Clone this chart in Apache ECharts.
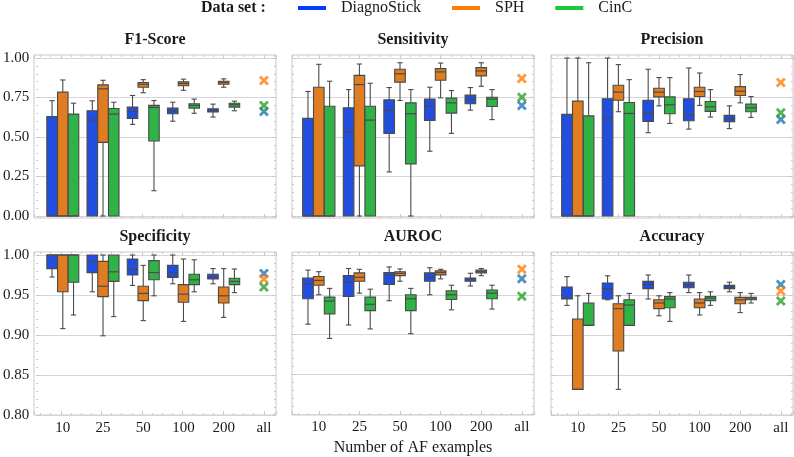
<!DOCTYPE html>
<html>
<head>
<meta charset="utf-8">
<script src="https://cdn.jsdelivr.net/npm/echarts/dist/echarts.min.js"></script>
<style>
  html, body { margin: 0; padding: 0; background: #fff; }
  #chart { width: 794px; height: 457px; }
</style>
</head>
<body>
<div id="chart"></div>
<script>
// x categories and groups
const categories = ['10', '25', '50', '100', '200', 'all'];
const dataSets = ['DiagnoStick', 'SPH', 'CinC'];
const metrics = ['F1-Score', 'Sensitivity', 'Precision', 'Specificity', 'AUROC', 'Accuracy'];

// box stats per category (10..200): [low whisker, q1, median, q3, high whisker]
const f1Diagno = [[0, 0, 0, 0.63, 0.73], [0, 0, 0.607, 0.666, 0.729], [0.58, 0.618, 0.662, 0.689, 0.763], [0.60, 0.647, 0.666, 0.683, 0.72], [0.626, 0.658, 0.668, 0.679, 0.708]];
const f1Sph = [[0, 0, 0, 0.784, 0.861], [0, 0.466, 0.805, 0.83, 0.859], [0.78, 0.815, 0.834, 0.845, 0.863], [0.796, 0.824, 0.838, 0.849, 0.866], [0.815, 0.834, 0.845, 0.853, 0.868]];
const f1Cinc = [[0, 0, 0, 0.645, 0.714], [0, 0, 0.645, 0.68, 0.72], [0.16, 0.475, 0.687, 0.70, 0.731], [0.65, 0.683, 0.70, 0.71, 0.74], [0.666, 0.689, 0.704, 0.714, 0.727]];
const f1All = [0.662, 0.857, 0.70];

const senDiagno = [[0, 0, 0, 0.618, 0.788], [0, 0, 0.534, 0.685, 0.80], [0.279, 0.523, 0.67, 0.735, 0.813], [0.41, 0.605, 0.697, 0.74, 0.815], [0.67, 0.71, 0.737, 0.765, 0.813]];
const senSph = [[0, 0, 0, 0.815, 0.96], [0, 0.317, 0.832, 0.89, 0.962], [0.731, 0.847, 0.90, 0.929, 0.97], [0.748, 0.859, 0.912, 0.933, 0.968], [0.821, 0.887, 0.918, 0.939, 0.97]];
const senCinc = [[0, 0, 0, 0.695, 0.853], [0, 0, 0.607, 0.695, 0.84], [0, 0.33, 0.647, 0.716, 0.80], [0.523, 0.651, 0.716, 0.746, 0.794], [0.61, 0.693, 0.74, 0.752, 0.80]];
const senAll = [0.70, 0.87, 0.752];

const preDiagno = [[0, 0, 0, 0.643, 1.0], [0, 0, 0.62, 0.742, 1.0], [0.527, 0.599, 0.651, 0.733, 0.929], [0.55, 0.603, 0.637, 0.742, 0.937], [0.553, 0.597, 0.616, 0.637, 0.697]];
const preSph = [[0, 0, 0, 0.727, 1.0], [0.66, 0.733, 0.784, 0.828, 0.958], [0.697, 0.754, 0.784, 0.809, 0.876], [0.70, 0.756, 0.788, 0.815, 0.905], [0.716, 0.763, 0.79, 0.819, 0.895]];
const preCinc = [[0, 0, 0, 0.634, 0.97], [0, 0, 0.649, 0.718, 0.863], [0.586, 0.647, 0.704, 0.754, 0.876], [0.626, 0.662, 0.691, 0.725, 0.80], [0.624, 0.66, 0.685, 0.708, 0.756]];
const preAll = [0.61, 0.845, 0.653];

const speDiagno = [[0.9725, 0.983, 1.0, 1.0, 1.0], [0.954, 0.978, 0.992, 1.0, 1.0], [0.962, 0.975, 0.982, 0.995, 1.0], [0.964, 0.972, 0.978, 0.987, 1.0], [0.964, 0.970, 0.972, 0.976, 0.983]];
const speSph = [[0.908, 0.954, 1.0, 1.0, 1.0], [0.899, 0.948, 0.961, 0.992, 1.0], [0.918, 0.943, 0.952, 0.961, 0.987], [0.917, 0.941, 0.951, 0.963, 0.995], [0.922, 0.94, 0.949, 0.96, 0.983]];
const speCinc = [[0.925, 0.966, 1.0, 1.0, 1.0], [0.923, 0.967, 0.979, 1.0, 1.0], [0.949, 0.969, 0.978, 0.993, 1.0], [0.954, 0.963, 0.969, 0.976, 0.994], [0.953, 0.963, 0.967, 0.971, 0.9825]];
const speAll = [0.977, 0.970, 0.960];

const aucDiagno = [[0.913, 0.945, 0.964, 0.971, 0.981], [0.912, 0.948, 0.966, 0.974, 0.983], [0.9425, 0.963, 0.975, 0.978, 0.985], [0.95, 0.967, 0.972, 0.9775, 0.984], [0.961, 0.967, 0.970, 0.971, 0.977]];
const aucSph = [[0.95, 0.962, 0.968, 0.973, 0.979], [0.952, 0.967, 0.972, 0.9775, 0.982], [0.967, 0.974, 0.977, 0.979, 0.9825], [0.970, 0.975, 0.978, 0.98, 0.982], [0.974, 0.9775, 0.979, 0.981, 0.983]];
const aucCinc = [[0.895, 0.926, 0.942, 0.947, 0.958], [0.907, 0.93, 0.938, 0.947, 0.957], [0.901, 0.93, 0.945, 0.95, 0.958], [0.931, 0.944, 0.95, 0.955, 0.962], [0.932, 0.945, 0.952, 0.956, 0.962]];
const aucAll = [0.970, 0.982, 0.948];

const accDiagno = [[0.937, 0.945, 0.946, 0.960, 0.973], [0.944, 0.945, 0.958, 0.965, 0.974], [0.945, 0.958, 0.963, 0.967, 0.975], [0.953, 0.959, 0.963, 0.966, 0.975], [0.954, 0.958, 0.96, 0.962, 0.966]];
const accSph = [[0.832, 0.832, 0.832, 0.92, 0.949], [0.832, 0.88, 0.933, 0.939, 0.949], [0.924, 0.933, 0.94, 0.944, 0.949], [0.925, 0.934, 0.94, 0.945, 0.953], [0.928, 0.939, 0.944, 0.947, 0.953]];
const accCinc = [[0.912, 0.912, 0.912, 0.94, 0.952], [0.912, 0.912, 0.9375, 0.944, 0.952], [0.917, 0.934, 0.945, 0.948, 0.953], [0.937, 0.943, 0.946, 0.948, 0.954], [0.94, 0.944, 0.945, 0.947, 0.952]];
const accAll = [0.963, 0.955, 0.9425];

// per panel: the three box sets and the "all" values
const panelBoxes = [
    [f1Diagno, f1Sph, f1Cinc],
    [senDiagno, senSph, senCinc],
    [preDiagno, preSph, preCinc],
    [speDiagno, speSph, speCinc],
    [aucDiagno, aucSph, aucCinc],
    [accDiagno, accSph, accCinc]
];
const panelAll = [f1All, senAll, preAll, speAll, aucAll, accAll];

// styling
const FONT = "'Liberation Serif', 'DejaVu Serif', serif";
const TEXT = '#1a1a1a';
const FRAME = '#c9c9c9';
const GRIDLINE = '#d6d6d6';
const EDGE = '#4a4a4a';
const boxColors = ['#224edf', '#df7d20', '#30b346'];
const lineColors = ['#023eff', '#ff7c00', '#1ac938'];
const markColors = ['#1f77b4', '#ff7f0e', '#2ca02c'];
const X_MARK = 'path://M2,0L5,3L8,0L10,2L7,5L10,8L8,10L5,7L2,10L0,8L3,5L0,2Z';

// layout
const panelLeft = [34, 292, 551];
const panelWidth = 242;
const frameTop = [55, 252];
const frameHeight = 163;
const plotTop = [58, 255];
const plotHeight = [158, 160];
const yRange = [[0, 1, 0.25], [0.8, 1, 0.05]];
const X_MIN = -0.66, X_MAX = 5.3;
const GROUP = 0.8;
const HALF_BOX = GROUP / 3 / 2 * 0.98;
const offsets = [-GROUP / 3, 0, GROUP / 3];

function catLabel(v) {
    const i = Math.round(v);
    if (Math.abs(v - i) > 1e-6 || categories[i] === undefined) return '';
    return categories[i];
}

function boxRenderer(shift) {
    return function (params, api) {
        const c = api.value(0) + shift;
        const lo = api.value(1), q1 = api.value(2), med = api.value(3), q3 = api.value(4), hi = api.value(5);
        const tl = api.coord([c - HALF_BOX, q3]);
        const br = api.coord([c + HALF_BOX, q1]);
        const mid = api.coord([c, med]);
        const capL = api.coord([c - HALF_BOX / 2, hi])[0];
        const capR = api.coord([c + HALF_BOX / 2, hi])[0];
        const cx = api.coord([c, hi])[0];
        const yHi = api.coord([c, hi])[1];
        const yLo = api.coord([c, lo])[1];
        const wStyle = { stroke: EDGE, lineWidth: 1.1 };
        const children = [];
        if (hi > q3) {
            children.push({ type: 'line', shape: { x1: cx, y1: yHi, x2: cx, y2: tl[1] }, style: wStyle });
            children.push({ type: 'line', shape: { x1: capL, y1: yHi, x2: capR, y2: yHi }, style: wStyle });
        }
        if (lo < q1) {
            children.push({ type: 'line', shape: { x1: cx, y1: yLo, x2: cx, y2: br[1] }, style: wStyle });
            children.push({ type: 'line', shape: { x1: capL, y1: yLo, x2: capR, y2: yLo }, style: wStyle });
        }
        children.push({
            type: 'rect',
            shape: { x: tl[0], y: tl[1], width: br[0] - tl[0], height: br[1] - tl[1] },
            style: { fill: api.visual('color'), stroke: EDGE, lineWidth: 1.1 }
        });
        children.push({ type: 'line', shape: { x1: tl[0], y1: mid[1], x2: br[0], y2: mid[1] }, style: { stroke: EDGE, lineWidth: 1.2 } });
        return { type: 'group', children: children };
    };
}

const grids = [], xAxes = [], yAxes = [], series = [];
const titles = [{
    text: 'Data set :', left: 201, top: 0, padding: 0,
    textStyle: { fontFamily: FONT, fontSize: 16, fontWeight: 'bold', color: TEXT }
}];

for (let p = 0; p < 6; p++) {
    const row = p < 3 ? 0 : 1;
    const col = p % 3;
    const [yMin, yMax, yStep] = yRange[row];

    // frame grid (border + x ticks) and plot grid (data)
    grids.push({ left: panelLeft[col], top: frameTop[row], width: panelWidth, height: frameHeight,
        show: true, borderColor: FRAME, borderWidth: 1, backgroundColor: 'transparent' });
    grids.push({ left: panelLeft[col], top: plotTop[row], width: panelWidth, height: plotHeight[row] });

    for (const pos of ['bottom', 'top']) {
        xAxes.push({
            gridIndex: 2 * p, type: 'value', position: pos, min: X_MIN, max: X_MAX,
            axisLine: { show: false, onZero: false },
            axisTick: { inside: true, length: 4, lineStyle: { color: FRAME } },
            minorTick: { show: true, splitNumber: 4, length: 2, lineStyle: { color: FRAME } },
            axisLabel: { show: false }, splitLine: { show: false }
        });
    }
    xAxes.push({
        gridIndex: 2 * p + 1, type: 'value', min: X_MIN, max: X_MAX,
        axisLine: { show: false, onZero: false }, axisTick: { show: false }, splitLine: { show: false },
        axisLabel: { show: row === 1, margin: 6, formatter: catLabel, showMinLabel: false, showMaxLabel: false,
            fontFamily: FONT, fontSize: 15, color: TEXT },
        name: p === 4 ? 'Number of AF examples' : '',
        nameLocation: 'middle', nameGap: 26,
        nameTextStyle: { fontFamily: FONT, fontSize: 16, color: TEXT }
    });

    yAxes.push({ gridIndex: 2 * p, type: 'value', show: false, min: yMin, max: yMax, axisLine: { onZero: false } });
    for (const pos of ['left', 'right']) {
        yAxes.push({
            gridIndex: 2 * p + 1, type: 'value', position: pos, min: yMin, max: yMax, interval: yStep,
            axisLine: { show: false, onZero: false },
            axisTick: { inside: true, length: 4, lineStyle: { color: FRAME } },
            minorTick: { show: true, splitNumber: 5, length: 2, lineStyle: { color: FRAME } },
            splitLine: { show: pos === 'left', lineStyle: { color: GRIDLINE, width: 1 } },
            axisLabel: { show: pos === 'left' && col === 0, margin: 7, formatter: v => v.toFixed(2),
                fontFamily: FONT, fontSize: 15, color: TEXT }
        });
    }

    titles.push({
        text: metrics[p], left: panelLeft[col] + panelWidth / 2, textAlign: 'center',
        top: row === 0 ? 32 : 229, padding: 0,
        textStyle: { fontFamily: FONT, fontSize: 16, fontWeight: 'bold', color: TEXT }
    });

    panelBoxes[p].forEach((stats, s) => {
        series.push({
            type: 'custom', name: dataSets[s],
            xAxisIndex: 3 * p + 2, yAxisIndex: 3 * p + 1,
            renderItem: boxRenderer(offsets[s]),
            itemStyle: { color: boxColors[s] },
            encode: { x: 0, y: [1, 2, 3, 4, 5] },
            data: stats.map((r, i) => [i].concat(r)),
            z: 3
        });
    });
    panelAll[p].forEach((v, s) => {
        series.push({
            type: 'scatter', name: dataSets[s],
            xAxisIndex: 3 * p + 2, yAxisIndex: 3 * p + 1,
            symbol: X_MARK, symbolSize: 10,
            itemStyle: { color: markColors[s] },
            data: [[categories.length - 1, v]],
            z: 4
        });
    });
}

const chart = echarts.init(document.getElementById('chart'));
chart.setOption({
    animation: false,
    backgroundColor: '#ffffff',
    title: titles,
    legend: {
        top: 0, left: 298, padding: 0,
        icon: 'rect', itemWidth: 28, itemHeight: 4, itemGap: 31,
        selectedMode: false,
        textStyle: { fontFamily: FONT, fontSize: 16, color: TEXT, padding: [0, 0, 0, 10] },
        data: dataSets.map((n, i) => ({ name: n, itemStyle: { color: lineColors[i], borderWidth: 0 } }))
    },
    grid: grids,
    xAxis: xAxes,
    yAxis: yAxes,
    series: series
});
</script>
</body>
</html>
